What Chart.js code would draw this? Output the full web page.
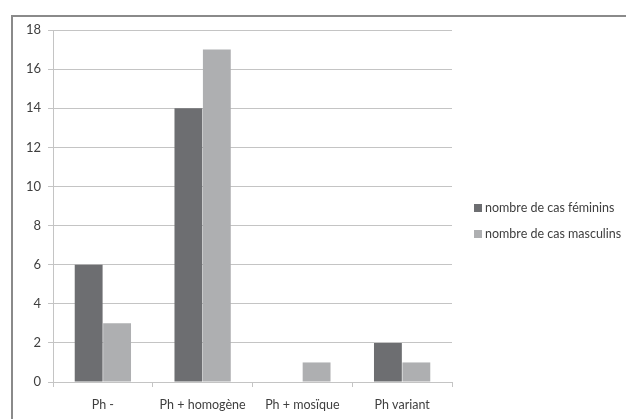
<!DOCTYPE html>
<html>
<head>
<meta charset="utf-8">
<script src="https://cdn.jsdelivr.net/npm/chart.js@4.4.1/dist/chart.umd.min.js"></script>
<style>
  html, body { margin: 0; padding: 0; background: #fff; }
  #wrap { position: relative; width: 626px; height: 419px; overflow: hidden; }
  #frame { position: absolute; left: 11px; top: 15px; width: 700px; height: 500px;
           border: 2px solid #8a8a8a; box-sizing: border-box; }
  canvas { position: absolute; left: 0; top: 0; }
</style>
</head>
<body>
<div id="wrap">
  <div id="frame"></div>
  <canvas id="c" width="626" height="419"></canvas>
</div>
<script>
const categories = ['Ph -', 'Ph + homogène', 'Ph + mosïque', 'Ph variant'];
const feminins = [6, 14, 0, 2];
const masculins = [3, 17, 1, 1];
const seriesLabels = ['nombre de cas féminins', 'nombre de cas masculins'];
const seriesColors = ['#6d6e71', '#aeafb1'];
const yTicks = [0, 2, 4, 6, 8, 10, 12, 14, 16, 18];

const FONT = "Lato, 'Open Sans', sans-serif";
const TEXT = '#3f3f3f';
const GRID = '#c4c4c4';

// Legend drawn to the right of the plot, squares followed by series names
const sideLegend = {
  id: 'sideLegend',
  afterDraw(chart) {
    const ctx = chart.ctx;
    ctx.save();
    ctx.font = '12.5px ' + FONT;
    ctx.textBaseline = 'middle';
    chart.data.datasets.forEach((ds, i) => {
      const y = 208 + i * 26;
      ctx.fillStyle = ds.backgroundColor;
      ctx.fillRect(474, y - 4, 8, 8);
      ctx.fillStyle = TEXT;
      ctx.fillText(ds.label, 485, y);
    });
    ctx.restore();
  }
};

new Chart(document.getElementById('c'), {
  type: 'bar',
  data: {
    labels: categories,
    datasets: [
      { label: seriesLabels[0], data: feminins, backgroundColor: seriesColors[0] },
      { label: seriesLabels[1], data: masculins, backgroundColor: seriesColors[1] }
    ]
  },
  options: {
    responsive: false,
    animation: false,
    devicePixelRatio: 1,
    layout: { padding: { left: 0, right: 174, top: 30, bottom: 0 } },
    plugins: { legend: { display: false }, tooltip: { enabled: false } },
    datasets: { bar: { categoryPercentage: 0.57, barPercentage: 0.98, borderWidth: 0 } },
    scales: {
      x: {
        offset: true,
        grid: { display: true, drawOnChartArea: false, offset: true, color: GRID, tickLength: 5 },
        border: { display: true, color: GRID, width: 1 },
        ticks: { color: TEXT, font: { family: FONT, size: 12.5 }, padding: 10, maxRotation: 0 },
        afterFit(s) { s.height = 37; }
      },
      y: {
        min: 0, max: 18,
        afterBuildTicks(s) { s.ticks = yTicks.map(v => ({ value: v })); },
        grid: { color: GRID, tickLength: 5 },
        border: { display: true, color: GRID, width: 1 },
        ticks: { color: TEXT, font: { family: FONT, size: 13 }, padding: 7 },
        afterFit(s) { s.width = 53; }
      }
    }
  },
  plugins: [sideLegend]
});
</script>
</body>
</html>
